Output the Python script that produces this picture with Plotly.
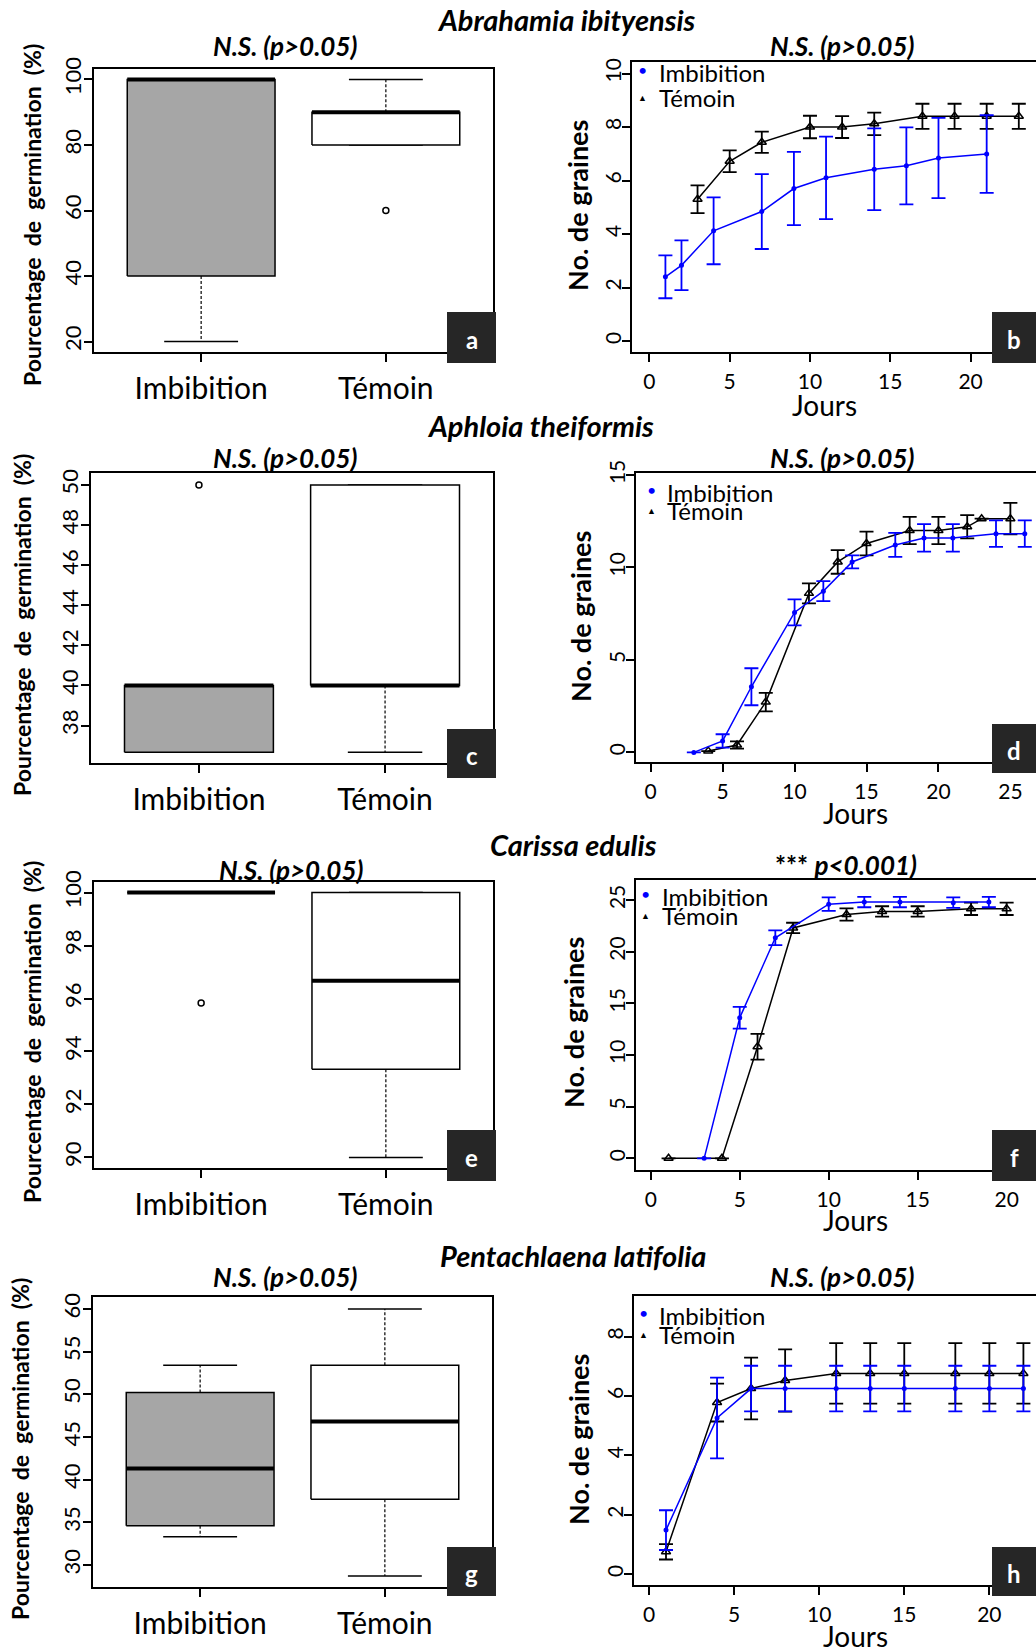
import plotly.graph_objects as go

W, H = 1036, 1649
FONT = "Lato"
BLUE = "#0000FF"
GRAY = "#A6A6A6"

groups = ["Imbibition", "Témoin"]
species = ["Abrahamia ibityensis", "Aphloia theiformis", "Carissa edulis", "Pentachlaena latifolia"]
subtitles = ["N.S. (p>0.05)"] * 5 + ["*** p<0.001)"] + ["N.S. (p>0.05)"] * 2

# ---- Box plot statistics (germination %) ----
a_q1 = [40, 80]; a_med = [100, 90]; a_q3 = [100, 90]; a_lo = [20, 80]; a_hi = [100, 100]; a_out = [[], [60]]
c_q1 = [36.67, 40]; c_med = [40, 40]; c_q3 = [40, 50]; c_lo = [36.67, 36.67]; c_hi = [40, 50]; c_out = [[50], []]
e_q1 = [100, 93.33]; e_med = [100, 96.67]; e_q3 = [100, 100]; e_lo = [100, 90]; e_hi = [100, 100]; e_out = [[95.83], []]
g_q1 = [34.6, 37.7]; g_med = [41.3, 46.8]; g_q3 = [50.2, 53.4]; g_lo = [33.3, 28.7]; g_hi = [53.4, 60]; g_out = [[], []]

# ---- Germination curves (No. de graines) ----
b_imb_day = [1, 2, 4, 7, 9, 11, 14, 16, 18, 21]
b_imb_mean = [2.4, 2.83, 4.12, 4.84, 5.7, 6.1, 6.42, 6.55, 6.84, 6.99]
b_imb_se = [0.8, 0.93, 1.25, 1.4, 1.37, 1.54, 1.53, 1.44, 1.5, 1.45]
b_tem_day = [3, 5, 7, 10, 12, 14, 17, 19, 21, 23]
b_tem_mean = [5.3, 6.72, 7.43, 8.0, 8.0, 8.12, 8.4, 8.4, 8.4, 8.4]
b_tem_se = [0.52, 0.41, 0.4, 0.42, 0.41, 0.42, 0.47, 0.47, 0.47, 0.47]

d_imb_day = [3, 5, 7, 10, 12, 14, 17, 19, 21, 24, 26]
d_imb_mean = [0, 0.62, 3.55, 7.57, 8.72, 10.3, 11.22, 11.6, 11.6, 11.83, 11.83]
d_imb_se = [0, 0.36, 1.0, 0.7, 0.54, 0.35, 0.65, 0.74, 0.74, 0.72, 0.72]
d_tem_day = [4, 6, 8, 11, 13, 15, 18, 20, 22, 23, 25]
d_tem_mean = [0.07, 0.4, 2.72, 8.6, 10.3, 11.3, 12.0, 12.0, 12.2, 12.64, 12.64]
d_tem_se = [0, 0.2, 0.5, 0.54, 0.64, 0.64, 0.74, 0.74, 0.63, 0, 0.85]

f_imb_day = [3, 5, 7, 10, 12, 14, 17, 19]
f_imb_mean = [0, 13.6, 21.35, 24.6, 24.8, 24.8, 24.75, 24.8]
f_imb_se = [0, 1.05, 0.72, 0.65, 0.5, 0.5, 0.5, 0.5]
f_tem_day = [1, 4, 6, 8, 11, 13, 15, 18, 20]
f_tem_mean = [0, 0, 10.8, 22.3, 23.6, 23.9, 23.9, 24.15, 24.15]
f_tem_se = [0, 0, 1.25, 0.5, 0.6, 0.5, 0.5, 0.6, 0.6]

h_imb_day = [1, 4, 6, 8, 11, 13, 15, 18, 20, 22]
h_imb_mean = [1.48, 5.26, 6.25, 6.25, 6.25, 6.25, 6.25, 6.25, 6.25, 6.25]
h_imb_se = [0.67, 1.36, 0.77, 0.77, 0.77, 0.77, 0.77, 0.77, 0.77, 0.77]
h_tem_day = [1, 4, 6, 8, 11, 13, 15, 18, 20, 22]
h_tem_mean = [0.75, 5.78, 6.25, 6.52, 6.76, 6.76, 6.76, 6.76, 6.76, 6.76]
h_tem_se = [0.26, 0.64, 1.04, 1.05, 1.02, 1.02, 1.02, 1.02, 1.02, 1.02]

# ---- layout geometry (pixels) ----
panels = {
    1: dict(kind="box", px=(94, 493), py=(69, 352), xr=[0.42, 2.58], yr=[16.8, 103.2], yt=[20, 40, 60, 80, 100]),
    2: dict(kind="line", px=(632, 1036), py=(62, 352), xr=[-1.08, 24.07], yr=[-0.41, 10.43], yt=[0, 2, 4, 6, 8, 10], xt=[0, 5, 10, 15, 20]),
    3: dict(kind="box", px=(91, 493), py=(473, 763), xr=[0.42, 2.58], yr=[36.13, 50.6], yt=[38, 40, 42, 44, 46, 48, 50]),
    4: dict(kind="line", px=(636, 1036), py=(473, 762), xr=[-1.02, 26.78], yr=[-0.52, 15.11], yt=[0, 5, 10, 15], xt=[0, 5, 10, 15, 20, 25]),
    5: dict(kind="box", px=(94, 493), py=(882, 1168), xr=[0.42, 2.58], yr=[89.6, 100.4], yt=[90, 92, 94, 96, 98, 100]),
    6: dict(kind="line", px=(636, 1036), py=(880, 1170), xr=[-0.83, 21.65], yr=[-1.13, 26.94], yt=[0, 5, 10, 15, 20, 25], xt=[0, 5, 10, 15, 20]),
    7: dict(kind="box", px=(93, 492), py=(1297, 1587), xr=[0.42, 2.58], yr=[27.42, 61.4], yt=[30, 35, 40, 45, 50, 55, 60]),
    8: dict(kind="line", px=(634, 1036), py=(1296, 1585), xr=[-0.88, 22.74], yr=[-0.37, 9.37], yt=[0, 2, 4, 6, 8], xt=[0, 5, 10, 15, 20]),
}


def axn(n, a):
    return a if n == 1 else f"{a}{n}"


fig = go.Figure()


def add_box(n, q1, med, q3, lo, hi, out):
    xa, ya = axn(n, "x"), axn(n, "y")
    common = dict(xaxis=xa, yaxis=ya, showlegend=False, hoverinfo="skip")
    for i in range(2):
        c = i + 1
        fig.add_trace(go.Scatter(x=[c, c, None, c, c], y=[q3[i], hi[i], None, q1[i], lo[i]], mode="lines",
                                 line=dict(color="black", width=1.2, dash="3px,2px"), **common))
        fig.add_trace(go.Scatter(x=[c - 0.2, c + 0.2, None, c - 0.2, c + 0.2], y=[hi[i], hi[i], None, lo[i], lo[i]],
                                 mode="lines", line=dict(color="black", width=1.5), **common))
        fig.add_trace(go.Scatter(x=[c - 0.4, c + 0.4, c + 0.4, c - 0.4, c - 0.4],
                                 y=[q1[i], q1[i], q3[i], q3[i], q1[i]], fill="toself",
                                 fillcolor=GRAY if i == 0 else "white", mode="lines",
                                 line=dict(color="black", width=1.5), **common))
        fig.add_trace(go.Scatter(x=[c - 0.4, c + 0.4], y=[med[i], med[i]], mode="lines",
                                 line=dict(color="black", width=4), **common))
        if out[i]:
            fig.add_trace(go.Scatter(x=[c] * len(out[i]), y=out[i], mode="markers",
                                     marker=dict(symbol="circle-open", size=6, color="black", line=dict(width=1.5)),
                                     **common))


def add_curves(n, idays, imean, ise, tdays, tmean, tse):
    xa, ya = axn(n, "x"), axn(n, "y")
    common = dict(xaxis=xa, yaxis=ya, showlegend=False, hoverinfo="skip")
    fig.add_trace(go.Scatter(x=tdays, y=tmean, mode="lines+markers",
                             line=dict(color="black", width=1.5),
                             marker=dict(symbol="triangle-up-open", size=8, color="black", line=dict(width=1.5)),
                             error_y=dict(type="data", array=tse, color="black", thickness=1.8, width=7), **common))
    fig.add_trace(go.Scatter(x=idays, y=imean, mode="lines+markers",
                             line=dict(color=BLUE, width=1.5),
                             marker=dict(symbol="circle", size=5, color=BLUE),
                             error_y=dict(type="data", array=ise, color=BLUE, thickness=1.8, width=7), **common))


add_box(1, a_q1, a_med, a_q3, a_lo, a_hi, a_out)
add_curves(2, b_imb_day, b_imb_mean, b_imb_se, b_tem_day, b_tem_mean, b_tem_se)
add_box(3, c_q1, c_med, c_q3, c_lo, c_hi, c_out)
add_curves(4, d_imb_day, d_imb_mean, d_imb_se, d_tem_day, d_tem_mean, d_tem_se)
add_box(5, e_q1, e_med, e_q3, e_lo, e_hi, e_out)
add_curves(6, f_imb_day, f_imb_mean, f_imb_se, f_tem_day, f_tem_mean, f_tem_se)
add_box(7, g_q1, g_med, g_q3, g_lo, g_hi, g_out)
add_curves(8, h_imb_day, h_imb_mean, h_imb_se, h_tem_day, h_tem_mean, h_tem_se)

layout = dict(width=W, height=H, margin=dict(l=0, r=0, t=0, b=0, pad=0, autoexpand=False),
              paper_bgcolor="white", plot_bgcolor="white",
              font=dict(family=FONT, color="black"), showlegend=False)

for n, p in panels.items():
    xl, xr_ = p["px"]
    yt_, yb = p["py"]
    xaxis = dict(domain=[xl / W, xr_ / W], range=p["xr"], showgrid=False, zeroline=False,
                 showline=True, linecolor="black", linewidth=2, mirror=True, automargin=False,
                 ticks="outside", ticklen=8, tickwidth=1.5, tickcolor="black",
                 anchor=axn(n, "y"), fixedrange=True)
    yaxis = dict(domain=[1 - yb / H, 1 - yt_ / H], range=p["yr"], showgrid=False, zeroline=False,
                 showline=True, linecolor="black", linewidth=2, automargin=False,
                 ticks="outside", ticklen=8, tickwidth=1.5, tickcolor="black",
                 tickvals=p["yt"], tickangle=-90, tickfont=dict(size=22, family=FONT),
                 ticklabelstandoff=-6, anchor=axn(n, "x"), fixedrange=True)
    if p["kind"] == "box":
        xaxis.update(tickvals=[1, 2], ticktext=groups, tickfont=dict(size=30, family=FONT), ticklabelstandoff=1)
        yaxis.update(mirror=True)
    else:
        xaxis.update(tickvals=p["xt"], tickfont=dict(size=21, family=FONT), ticklabelstandoff=2)
        yaxis.update(mirror=False, tickfont=dict(size=21, family=FONT), ticklabelstandoff=-7)
    layout[axn(n, "xaxis")] = xaxis
    layout[axn(n, "yaxis")] = yaxis

annotations = []
shapes = []


def ann(x, y, text, size, angle=0, xanchor="center", color="black", bold=False, italic=False):
    t = text
    if italic:
        t = f"<i>{t}</i>"
    if bold:
        t = f"<b>{t}</b>"
    annotations.append(dict(x=x / W, y=1 - y / H, xref="paper", yref="paper", text=t, showarrow=False,
                            textangle=angle, xanchor=xanchor, yanchor="middle",
                            font=dict(size=size, family=FONT, color=color)))


# species titles
sp_pos = [(566, 20), (540, 426), (573, 845), (573, 1255)]
for s, (x, y) in zip(species, sp_pos):
    ann(x, y, s, 29, bold=True, italic=True)

# subtitles
sub_pos = [(285, 46), (842, 46), (285, 458), (842, 458), (291, 870), (846, 865), (285, 1277), (842, 1277)]
for i, (s, (x, y)) in enumerate(zip(subtitles, sub_pos)):
    if i == 5:
        ann(x, y, "*** <i>p&lt;0.001)</i>", 26, bold=True)
    else:
        s2 = s.replace("<", "&lt;").replace(">", "&gt;")
        ann(x, y, s2, 26, bold=True, italic=True)

# y-axis titles
for x, y in [(32, 215), (22, 625), (32, 1032), (20, 1449)]:
    ann(x, y, "Pourcentage  de  germination  (%)", 23, angle=-90, bold=True)
for x, y in [(577, 206), (580, 617), (573, 1023), (578, 1440)]:
    ann(x, y, "No. de graines", 27, angle=-90, bold=True)

# x-axis titles
for x, y in [(824, 405), (855, 813), (855, 1220), (855, 1636)]:
    ann(x, y, "Jours", 28)

# legends
leg = [(642, 657, 73, 97), (651, 665, 492, 510), (645, 660, 897, 915), (643, 657, 1315, 1334)]
for mx, tx, y1, y2 in leg:
    ann(mx, y1 - 3, "•", 16, color=BLUE)
    ann(mx, y2, "▲", 9)
    ann(tx, y1, "Imbibition", 24, xanchor="left")
    ann(tx, y2, "Témoin", 24, xanchor="left")

# panel letters
letters = [("a", 447, 496, 312, 363), ("b", 992, 1036, 312, 363), ("c", 447, 496, 729, 778),
           ("d", 992, 1036, 724, 773), ("e", 447, 496, 1130, 1181), ("f", 992, 1036, 1130, 1181),
           ("g", 447, 496, 1547, 1596), ("h", 992, 1036, 1547, 1596)]
for L, x0, x1, y0, y1 in letters:
    shapes.append(dict(type="rect", xref="paper", yref="paper", x0=x0 / W, x1=x1 / W,
                       y0=1 - y1 / H, y1=1 - y0 / H, fillcolor="#262626", line=dict(width=0), layer="above"))
    ann((x0 + x1) / 2, (y0 + y1) / 2 + 2, L, 24, color="white", bold=True)

layout["annotations"] = annotations
layout["shapes"] = shapes
fig.update_layout(**layout)
fig.write_html("out.html",
               config={"displayModeBar": False},
               post_script="document.body.style.margin='0';document.body.style.padding='0';"
                           "document.documentElement.style.overflow='hidden';document.body.style.overflow='hidden';"
                           "var d=document.getElementById('{plot_id}');d.style.position='fixed';"
                           "d.style.top='0px';d.style.left='0px';")
